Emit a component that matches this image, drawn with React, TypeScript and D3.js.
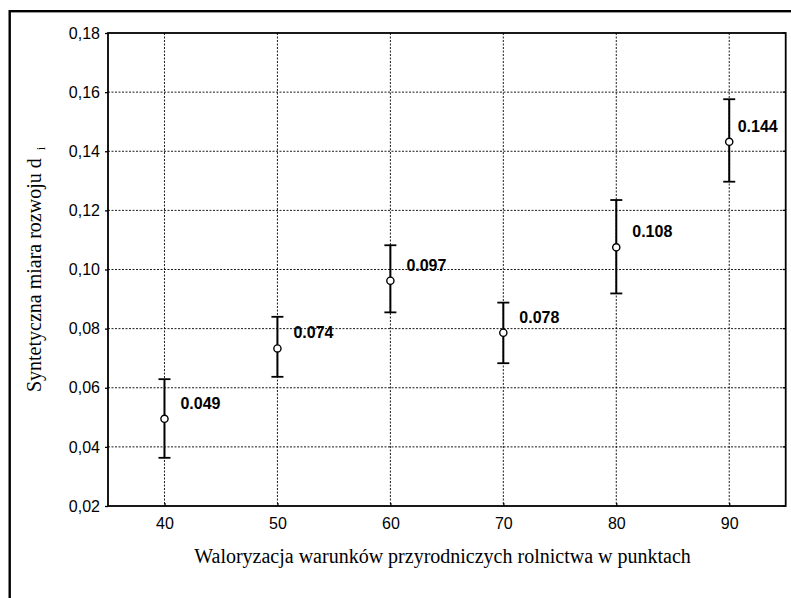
import React, { useEffect, useRef } from 'react';
import * as d3 from 'd3';

// values
const xValues = [40, 50, 60, 70, 80, 90];
const means = [0.0495, 0.0733, 0.0962, 0.0786, 0.1075, 0.1432];
const upper = [0.0629, 0.084, 0.1082, 0.0888, 0.1235, 0.1576];
const lower = [0.0363, 0.0637, 0.0855, 0.0683, 0.0919, 0.1297];
const pointLabels = ['0.049', '0.074', '0.097', '0.078', '0.108', '0.144'];
const xTicks = [40, 50, 60, 70, 80, 90];
const yTicks = [0.02, 0.04, 0.06, 0.08, 0.1, 0.12, 0.14, 0.16, 0.18];

const xTitle = 'Waloryzacja warunków przyrodniczych rolnictwa w punktach';
const yTitle = 'Syntetyczna miara rozwoju d';

export default function App() {
  const ref = useRef<SVGSVGElement | null>(null);

  useEffect(() => {
    document.body.style.margin = '0';
    const svg = d3.select(ref.current);
    svg.selectAll('*').remove();

    const left = 108, right = 785.7, top = 33, bottom = 506;
    const sans = "'Liberation Sans', Arial, sans-serif";
    const serif = "'Liberation Serif', 'Times New Roman', serif";

    const x = d3.scaleLinear().domain([35, 95]).range([left, right]);
    const y = d3.scaleLinear().domain([0.02, 0.18]).range([bottom, top]);

    svg.append('rect')
      .attr('width', 791).attr('height', 598).attr('fill', '#fff');

    // outer frame (cut off at right and bottom edge)
    svg.append('rect')
      .attr('x', 9.7).attr('y', 11.2)
      .attr('width', 820).attr('height', 620)
      .attr('fill', 'none').attr('stroke', '#000').attr('stroke-width', 2.4);

    // grid
    const grid = svg.append('g')
      .attr('stroke', '#000').attr('stroke-width', 0.9)
      .attr('stroke-dasharray', '2,1.5');
    grid.selectAll('.vg').data(xTicks).enter().append('line')
      .attr('x1', d => x(d)).attr('x2', d => x(d))
      .attr('y1', top).attr('y2', bottom);
    grid.selectAll('.hg').data(yTicks.slice(1, -1)).enter().append('line')
      .attr('x1', left).attr('x2', right)
      .attr('y1', d => y(d)).attr('y2', d => y(d));

    // axes
    const yAxis = svg.append('g')
      .attr('transform', `translate(${left},0)`)
      .call(d3.axisLeft(y).tickValues(yTicks).tickSize(3).tickPadding(5)
        .tickFormat(d => d3.format('.2f')(d as number).replace('.', ',')));
    yAxis.select('.domain').remove();
    yAxis.selectAll('text')
      .attr('font-family', sans).attr('font-size', 16).attr('fill', '#000');
    yAxis.selectAll('line').attr('stroke-width', 1.3);

    const xAxis = svg.append('g')
      .attr('transform', `translate(0,${bottom})`)
      .call(d3.axisBottom(x).tickValues(xTicks).tickSize(-3).tickPadding(12));
    xAxis.select('.domain').remove();
    xAxis.selectAll('text')
      .attr('font-family', sans).attr('font-size', 16).attr('fill', '#000');
    xAxis.selectAll('line').attr('stroke-width', 1.3);

    // right-side inner ticks
    svg.append('g').selectAll('line').data(yTicks).enter().append('line')
      .attr('x1', right - 3).attr('x2', right)
      .attr('y1', d => y(d)).attr('y2', d => y(d))
      .attr('stroke', '#000').attr('stroke-width', 1.3);

    svg.append('rect')
      .attr('x', left).attr('y', top)
      .attr('width', right - left).attr('height', bottom - top)
      .attr('fill', 'none').attr('stroke', '#000').attr('stroke-width', 1.8);

    // error bars
    const bars = svg.append('g').selectAll('g')
      .data(xValues.map((v, i) => ({ x: v, m: means[i], hi: upper[i], lo: lower[i], label: pointLabels[i] })))
      .enter().append('g');

    bars.append('line')
      .attr('x1', d => x(d.x)).attr('x2', d => x(d.x))
      .attr('y1', d => y(d.hi)).attr('y2', d => y(d.lo))
      .attr('stroke', '#000').attr('stroke-width', 2);
    bars.append('line')
      .attr('x1', d => x(d.x) - 6).attr('x2', d => x(d.x) + 6)
      .attr('y1', d => y(d.hi)).attr('y2', d => y(d.hi))
      .attr('stroke', '#000').attr('stroke-width', 1.8);
    bars.append('line')
      .attr('x1', d => x(d.x) - 6).attr('x2', d => x(d.x) + 6)
      .attr('y1', d => y(d.lo)).attr('y2', d => y(d.lo))
      .attr('stroke', '#000').attr('stroke-width', 1.8);
    bars.append('circle')
      .attr('cx', d => x(d.x)).attr('cy', d => y(d.m)).attr('r', 3.6)
      .attr('fill', '#fff').attr('stroke', '#000').attr('stroke-width', 1.4);

    bars.append('text')
      .attr('x', d => Math.min(x(d.x) + 16, right - 48))
      .attr('y', d => y(d.m) - 10)
      .attr('font-family', sans).attr('font-size', 16).attr('font-weight', 'bold')
      .text(d => d.label);

    // titles
    svg.append('text')
      .attr('x', 442.5).attr('y', 563)
      .attr('text-anchor', 'middle')
      .attr('font-family', serif).attr('font-size', 20)
      .text(xTitle);

    const yt = svg.append('text')
      .attr('transform', `translate(41,${(top + bottom) / 2}) rotate(-90)`)
      .attr('text-anchor', 'middle')
      .attr('font-family', serif).attr('font-size', 20)
      .text(yTitle);
    yt.append('tspan')
      .attr('dx', 8).attr('dy', 4).attr('font-size', 12)
      .text('i');
  }, []);

  return <svg ref={ref} width={791} height={598} style={{ display: 'block' }} />;
}
